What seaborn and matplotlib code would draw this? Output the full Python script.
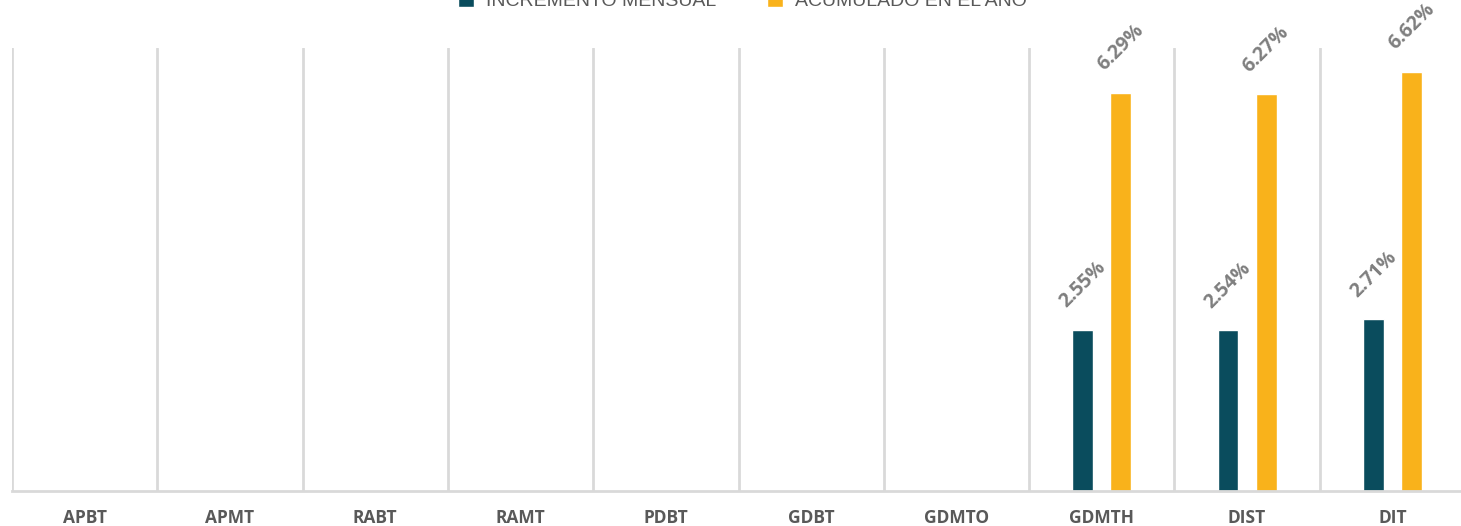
import numpy as np
import pandas as pd
import seaborn as sns
import matplotlib.pyplot as plt

categories = ["APBT", "APMT", "RABT", "RAMT", "PDBT", "GDBT", "GDMTO", "GDMTH", "DIST", "DIT"]
series_names = ["INCREMENTO MENSUAL", "ACUMULADO EN EL AÑO"]
monthly = [np.nan, np.nan, np.nan, np.nan, np.nan, np.nan, np.nan, 2.55, 2.54, 2.71]
yearly = [np.nan, np.nan, np.nan, np.nan, np.nan, np.nan, np.nan, 6.29, 6.27, 6.62]
colors = ["#0a4c5d", "#f9b21b"]

df = pd.DataFrame({
    "cat": categories * 2,
    "serie": [series_names[0]] * len(categories) + [series_names[1]] * len(categories),
    "valor": monthly + yearly,
})

sns.set_theme(style="white")
plt.rcParams['font.family'] = ['Open Sans', 'DejaVu Sans']

fig = plt.figure(figsize=(14.61, 5.26), dpi=100)
ax = fig.add_axes([12 / 1461, 35 / 526, 1453 / 1461, 443 / 526])

sns.barplot(data=df, x="cat", y="valor", hue="serie", order=categories,
            hue_order=series_names, palette=colors, width=0.524, gap=0.45,
            errorbar=None, ax=ax, saturation=1)

for cont in ax.containers:
    ax.bar_label(cont, fmt="{:.2f}%", rotation=45, padding=13,
                 color="#7f7f7f", fontsize=14, fontweight="bold")

ax.set_ylim(0, 7)
ax.set_xlim(-0.5, 9.5)
ax.set_xlabel("")
ax.set_ylabel("")
ax.set_yticks([])

# separadores verticales entre categorias
ax.set_xticks(np.arange(-0.5, 10, 1), minor=True)
ax.grid(True, which="minor", axis="x", color="#d9d9d9", linewidth=2)
ax.grid(False, which="major")
ax.tick_params(axis="x", which="both", length=0, pad=13)
for lbl in ax.get_xticklabels():
    lbl.set_fontweight("bold")
    lbl.set_fontsize(12.5)
    lbl.set_color("#595959")

for side in ["top", "right", "left"]:
    ax.spines[side].set_visible(False)
ax.spines["bottom"].set_color("#d9d9d9")
ax.spines["bottom"].set_linewidth(2)

handles, labels = ax.get_legend_handles_labels()
ax.get_legend().remove()
fig.legend(handles, labels, loc="center", bbox_to_anchor=(0.508, 0.998), ncol=2,
           frameon=False, handlelength=0.85, handleheight=0.85, handletextpad=0.6,
           columnspacing=2.6,
           prop={"family": "Liberation Sans", "size": 14})
for t in fig.legends[0].get_texts():
    t.set_color("#595959")

fig.savefig("out.png", dpi=100)
